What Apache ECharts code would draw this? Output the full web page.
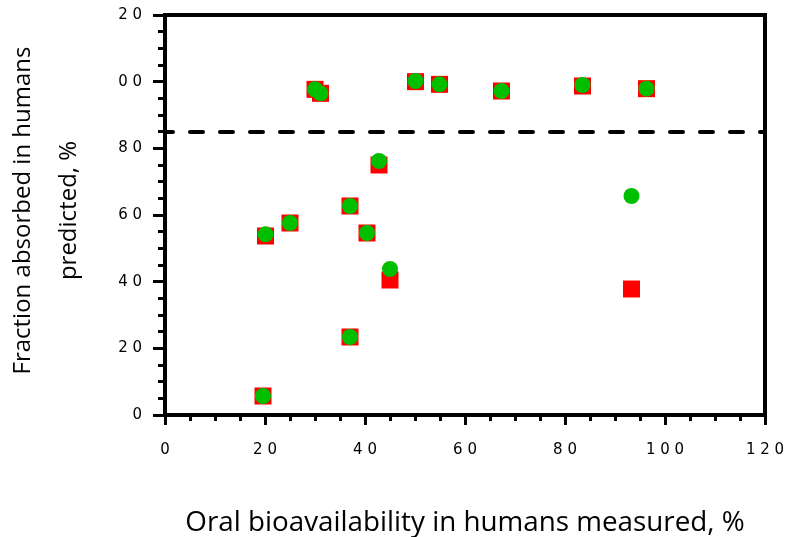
<!DOCTYPE html>
<html>
<head>
<meta charset="utf-8">
<script src="https://cdn.jsdelivr.net/npm/echarts@6/dist/echarts.min.js"></script>
<style>html,body{margin:0;padding:0;background:#fff;}#chart{width:785px;height:537px;}</style>
</head>
<body>
<div id="chart"></div>
<script>
// Measured oral bioavailability (x), shared by both series
const measured = [19.6, 20.1, 25, 30, 31.1, 37, 37, 40.4, 42.8, 45, 50.1, 54.9, 67.3, 83.5, 96.3, 93.3];
// Predicted fraction absorbed – red squares
const predictedRed = [5.7, 53.7, 57.6, 97.7, 96.5, 62.7, 23.4, 54.6, 75.0, 40.5, 100.0, 99.2, 97.2, 98.7, 97.9, 37.8];
// Predicted fraction absorbed – green circles
const predictedGreen = [5.7, 54.2, 57.6, 97.7, 96.5, 62.7, 23.4, 54.6, 76.2, 43.8, 100.2, 99.2, 97.2, 99.0, 97.9, 65.7];
// Threshold (dashed line)
const threshold = 85;
// Tick labels as printed in the figure
const xTickValues = [0, 20, 40, 60, 80, 100, 120];
const xTickLabels = ['0', '2 0', '4 0', '6 0', '8 0', '1 0 0', '1 2 0'];
const yTickValues = [0, 20, 40, 60, 80, 100, 120];
const yTickLabels = ['0', '2 0', '4 0', '6 0', '8 0', '0 0', '2 0'];
const xTitle = 'Oral bioavailability in humans measured, %';
const yTitle = 'Fraction absorbed in humans\npredicted, %';

const redData = measured.map((x, i) => [x, predictedRed[i]]);
const greenData = measured.map((x, i) => [x, predictedGreen[i]]);
const lab = (vals, labs) => v => { const i = vals.indexOf(v); return i >= 0 ? labs[i] : ''; };

const chart = echarts.init(document.getElementById('chart'), null, {renderer: 'canvas'});
const tickFont = {fontFamily: '"DejaVu Sans", "Liberation Sans", Arial, sans-serif', fontSize: 15, color: '#000'};
chart.setOption({
  animation: false,
  backgroundColor: '#fff',
  grid: {left: 165, right: 20, top: 15, bottom: 122, show: true, borderColor: '#000', borderWidth: 4, backgroundColor: 'transparent', outerBoundsMode: 'none', containLabel: false},
  xAxis: {
    type: 'value', min: 0, max: 120, interval: 20,
    name: xTitle, nameLocation: 'middle', nameGap: 94,
    nameTextStyle: {fontFamily: '"Open Sans", sans-serif', fontSize: 27.8, lineHeight: 28, color: '#000'},
    axisLine: {show: true, lineStyle: {color: '#000', width: 4}},
    axisTick: {show: true, length: 10, lineStyle: {color: '#000', width: 3}},
    minorTick: {show: true, splitNumber: 4, length: 6, lineStyle: {color: '#000', width: 3}},
    splitLine: {show: false},
    axisLabel: Object.assign({margin: 28, formatter: lab(xTickValues, xTickLabels)}, tickFont)
  },
  yAxis: {
    type: 'value', min: 0, max: 120, interval: 20,
    name: yTitle, nameLocation: 'middle', nameRotate: 90, nameGap: 73,
    nameTextStyle: {fontFamily: '"Open Sans", sans-serif', fontSize: 24, lineHeight: 46, color: '#000', padding: [0, 0, 0, 9]},
    axisLine: {show: true, lineStyle: {color: '#000', width: 4}},
    axisTick: {show: true, length: 12, lineStyle: {color: '#000', width: 3}},
    minorTick: {show: true, splitNumber: 4, length: 7, lineStyle: {color: '#000', width: 3}},
    splitLine: {show: false},
    axisLabel: Object.assign({margin: 23, formatter: lab(yTickValues, yTickLabels)}, tickFont)
  },
  series: [
    {
      type: 'scatter', name: 'red', data: redData, symbol: 'rect', symbolSize: 17,
      itemStyle: {color: '#ff0000', opacity: 1}, z: 3,
      markLine: {
        silent: true, symbol: 'none', label: {show: false},
        lineStyle: {color: '#000', width: 4, type: [13, 17], dashOffset: 5, cap: 'round', opacity: 1},
        data: [{yAxis: threshold}]
      }
    },
    {
      type: 'scatter', name: 'green', data: greenData, symbol: 'circle', symbolSize: 16,
      itemStyle: {color: '#00bf00', opacity: 1}, z: 4
    }
  ]
});
</script>
</body>
</html>
